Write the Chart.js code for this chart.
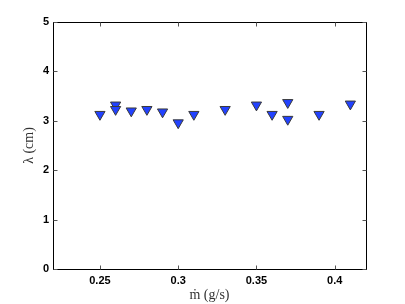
<!DOCTYPE html>
<html><head><meta charset="utf-8">
<script src="https://cdn.jsdelivr.net/npm/chart.js@4"></script>
<style>html,body{margin:0;padding:0;background:#fff}#w{width:405px;height:304px}</style>
</head><body><div id="w"><canvas id="c"></canvas></div>
<script>
const massFlow = [0.25,0.26,0.26,0.27,0.28,0.29,0.30,0.31,0.33,0.35,0.36,0.37,0.37,0.39,0.41];
const wavelength = [3.13,3.32,3.23,3.20,3.23,3.18,2.96,3.13,3.23,3.32,3.13,3.37,3.03,3.13,3.34];
const xTicks = [0.25,0.3,0.35,0.4];
const yTicks = [0,1,2,3,4,5];

const pts = massFlow.map((x,i)=>({x:x,y:wavelength[i]}));

const boxTicks = {
  id:'boxTicks',
  afterDraw(chart){
    const {ctx, chartArea:a, scales:{x,y}} = chart;
    ctx.save();
    ctx.strokeStyle='#000'; ctx.lineWidth=1;
    const L=Math.round(a.left)+0.5, T=Math.round(a.top)+0.5, R=Math.round(a.right)+0.5, B=Math.round(a.bottom)+0.5;
    ctx.strokeRect(L,T,R-L,B-T);
    ctx.strokeStyle='#555';
    ctx.beginPath();
    xTicks.forEach(v=>{const p=Math.round(x.getPixelForValue(v))+0.5;
      ctx.moveTo(p,B); ctx.lineTo(p,B-4);
      ctx.moveTo(p,T); ctx.lineTo(p,T+4);});
    yTicks.forEach(v=>{const p=Math.round(y.getPixelForValue(v))+0.5;
      ctx.moveTo(L,p); ctx.lineTo(L+4,p);
      ctx.moveTo(R,p); ctx.lineTo(R-4,p);});
    ctx.stroke();
    ctx.restore();
  }
};

new Chart(document.getElementById('c'),{
  type:'scatter',
  data:{datasets:[{data:pts,pointStyle:'triangle',rotation:180,pointRadius:5.9,pointHoverRadius:5.9,
    backgroundColor:'#2242ff',borderColor:'#3a3a3a',borderWidth:1}]},
  options:{
    responsive:true,maintainAspectRatio:false,animation:false,
    plugins:{legend:{display:false},tooltip:{enabled:false}},
    layout:{padding:{top:22,right:39,left:0,bottom:0}},
    scales:{
      x:{type:'linear',min:0.22,max:0.42,
        afterBuildTicks(s){s.ticks=xTicks.map(v=>({value:v}));},
        afterFit(s){s.height=35;},
        grid:{display:false,drawTicks:false},border:{display:false},
        ticks:{padding:5,color:'#000',font:{family:'Liberation Sans',size:11,weight:'bold'},
          callback:v=>String(v)},
        title:{display:true,text:'ṁ (g/s)',color:'#333',padding:{top:0,bottom:0},
          font:{family:'Liberation Serif',size:14}}},
      y:{min:0,max:5,
        afterBuildTicks(s){s.ticks=yTicks.map(v=>({value:v}));},
        afterFit(s){s.width=53;},
        grid:{display:false,drawTicks:false},border:{display:false},
        ticks:{padding:4,color:'#000',font:{family:'Liberation Sans',size:11,weight:'bold'}},
        title:{display:true,text:'λ (cm)',color:'#333',padding:{top:21,bottom:0},
          font:{family:'Liberation Serif',size:14}}}
    }
  },
  plugins:[boxTicks]
});
</script></body></html>
